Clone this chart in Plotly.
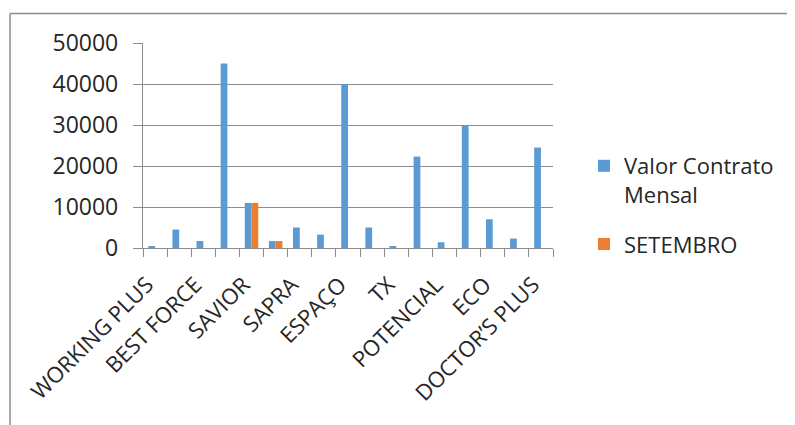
import plotly.graph_objects as go

categories = ["WORKING PLUS", "", "BEST FORCE", "", "SAVIOR", "", "SAPRA", "",
              "ESPAÇO", "", "TX", "", "POTENCIAL", "", "ECO", "", "DOCTOR’S PLUS"]
valor_contrato = [400, 4500, 1700, 45000, 11000, 1700, 5000, 3250, 40000,
                  5000, 400, 22300, 1400, 30000, 7000, 2300, 24500]
setembro = [None, None, None, None, 11000, 1700, None, None, None,
            None, None, None, None, None, None, None, None]
y_ticks = [0, 10000, 20000, 30000, 40000, 50000]
y_ticktext = ["0", "10000", "20000", "30000", "40000", "50000"]

OFF = 8  # page body margin
W, H = 795, 425
L, R, T, B = 143 - OFF, 795 - 553 + OFF, 43 - OFF, 425 - 248 + OFF
pw, ph = W - L - R, H - T - B

xs = list(range(len(categories)))
tickvals = [i for i, c in enumerate(categories) if c]
ticktext = [c for c in categories if c]

FONT = "Open Sans"
fig = go.Figure()
fig.add_trace(go.Bar(x=xs, y=valor_contrato, name="Valor Contrato<br>Mensal",
                     marker=dict(color="#5B9BD5", line=dict(width=0)),
                     legendgroup="a"))
fig.add_trace(go.Bar(x=xs, y=setembro, name="SETEMBRO",
                     marker=dict(color="#ED7D31", line=dict(width=0)),
                     legendgroup="b"))

def px_to_paper_x(px):
    return (px - OFF - L) / pw

def px_to_paper_y(py):
    return (H - B - (py - OFF)) / ph

fig.update_layout(
    width=W, height=H,
    margin=dict(l=L, r=R, t=T, b=B, pad=0, autoexpand=False),
    paper_bgcolor="white", plot_bgcolor="white",
    barmode="group", bargap=0.44, bargroupgap=0,
    font=dict(family=FONT, size=23, color="#262626"),
    legend=dict(x=px_to_paper_x(584), y=px_to_paper_y(145), xanchor="left", yanchor="top",
                valign="top", tracegroupgap=18, font=dict(size=22),
                itemwidth=30, bgcolor="rgba(0,0,0,0)"),
    xaxis=dict(range=[-0.5, len(categories) - 0.5], tickmode="array",
               tickvals=tickvals, ticktext=ticktext, tickangle=-45,
               ticks="", showgrid=False, zeroline=False, automargin=False,
               showline=True, linecolor="#8c8c8c", linewidth=1.3,
               minor=dict(tickmode="linear", tick0=-0.5, dtick=1, ticks="outside",
                          ticklen=8, tickcolor="#8c8c8c", tickwidth=1.3, showgrid=False),
               ticklabelstandoff=14, ticklabelshift=-8, tickfont=dict(size=22)),
    yaxis=dict(range=[0, 50000], tickmode="array", tickvals=y_ticks, ticktext=y_ticktext,
               ticks="outside", ticklen=9, tickcolor="#8c8c8c", tickwidth=1.3,
               showgrid=True, gridcolor="#8c8c8c", gridwidth=1.3, automargin=False,
               zeroline=False, showline=True, linecolor="#8c8c8c", linewidth=1.3,
               ticklabelstandoff=10, tickfont=dict(size=23)),
    shapes=[
        dict(type="line", xref="paper", yref="paper",
             x0=px_to_paper_x(10), x1=px_to_paper_x(W + 20),
             y0=px_to_paper_y(13.5), y1=px_to_paper_y(13.5),
             line=dict(color="#8c8c8c", width=1.5)),
        dict(type="line", xref="paper", yref="paper",
             x0=px_to_paper_x(10), x1=px_to_paper_x(10),
             y0=px_to_paper_y(13.5), y1=px_to_paper_y(H + 20),
             line=dict(color="#8c8c8c", width=1.5)),
    ],
)
fig.write_html("out.html")
